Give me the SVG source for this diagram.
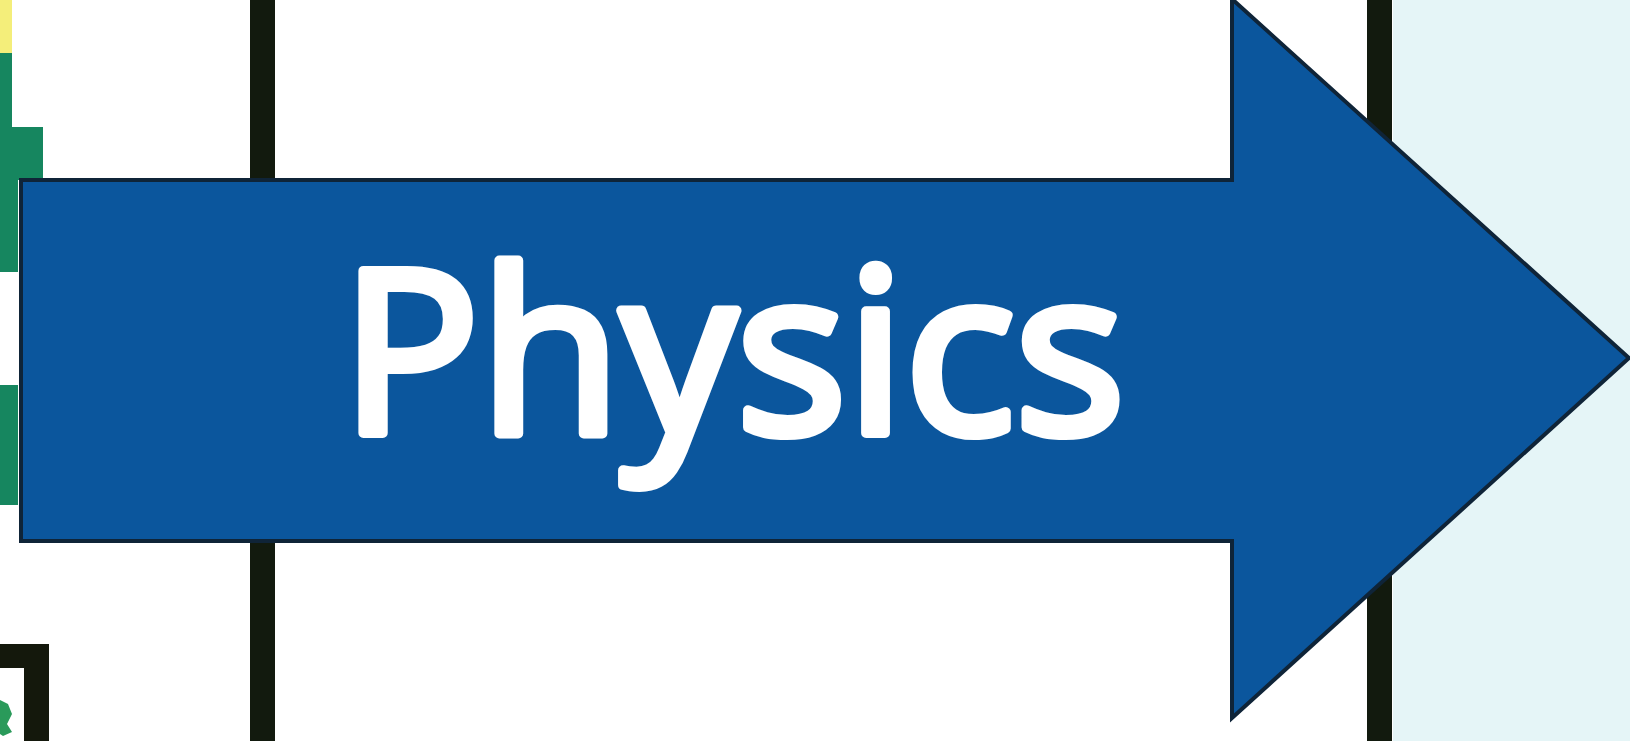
<svg xmlns="http://www.w3.org/2000/svg" width="1630" height="741" viewBox="0 0 1630 741">
  <style>
    .vline { fill: #121a0e; }
    .green { fill: #16865f; }
    .arrow { fill: #0b569d; stroke: #0f2438; stroke-width: 4; stroke-linejoin: miter; }
    .label { font-family: "Open Sans", "Liberation Sans", sans-serif; font-size: 228px; font-weight: 400; fill: #ffffff; stroke: #ffffff; stroke-width: 10; stroke-linejoin: round; stroke-linecap: round; }
  </style>
  <rect x="0" y="0" width="1630" height="741" fill="#ffffff"/>
  <g id="background">
    <rect x="1393" y="0" width="237" height="741" fill="#e5f5f7"/>
    <rect class="vline" x="250" y="0" width="25" height="741"/>
    <rect class="vline" x="1367" y="0" width="25" height="741"/>
  </g>
  <g id="left-fragments">
    <rect x="0" y="0" width="12" height="53" fill="#f4ee7a"/>
    <path class="green" d="M0 53 H12 V127 H43 V180 H18 V272 H0 Z"/>
    <rect class="green" x="0" y="385" width="18" height="120"/>
    <path d="M0 644 H49 V741 H24 V668 H0 Z" fill="#14180c"/>
    <path d="M0 700 L8 704 L12 714 L7 724 L12 732 L3 736 L0 734 Z" fill="#2a9a5a"/>
  </g>
  <g id="connectors"></g>
  <g id="physics-arrow">
    <polygon class="arrow" points="21,180 1232,180 1232,-1 1629,358 1232,718 1232,541 21,541"/>
    <text class="label" x="341" y="433" textLength="784" lengthAdjust="spacingAndGlyphs">Physics</text>
  </g>
</svg>
